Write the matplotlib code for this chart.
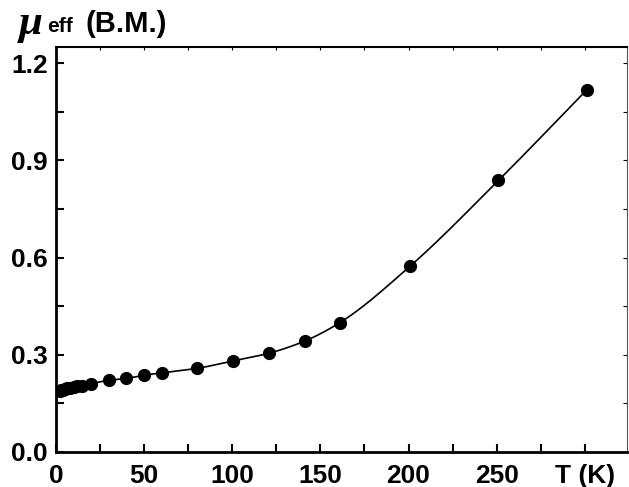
import numpy as np
import matplotlib
matplotlib.use("Agg")
import matplotlib.pyplot as plt
from matplotlib.ticker import MultipleLocator

# temperature (K) and effective magnetic moment (B.M.)
temps = [2, 3, 4, 5, 6, 8, 10, 12, 15, 20, 30, 40, 50, 60, 80, 100.5, 121, 141, 161, 201, 251, 301]
mu_eff = [0.187, 0.190, 0.192, 0.194, 0.196, 0.198, 0.200, 0.202, 0.205, 0.211, 0.221, 0.227,
          0.237, 0.244, 0.258, 0.281, 0.305, 0.342, 0.399, 0.574, 0.838, 1.117]

x_ticks = [0, 50, 100, 150, 200, 250, 300]
x_labels = ["0", "50", "100", "150", "200", "250", "T (K)"]
y_ticks = [0.0, 0.3, 0.6, 0.9, 1.2]


def pchip(x, y, xs):
    """Monotone cubic (Fritsch-Carlson) through the measured points, for the smooth guide line."""
    x = np.asarray(x, float)
    y = np.asarray(y, float)
    h = np.diff(x)
    d = np.diff(y) / h
    m = np.zeros_like(y)
    for k in range(1, len(x) - 1):
        if d[k - 1] * d[k] > 0:
            w1 = 2 * h[k] + h[k - 1]
            w2 = h[k] + 2 * h[k - 1]
            m[k] = (w1 + w2) / (w1 / d[k - 1] + w2 / d[k])
    m[0] = d[0]
    m[-1] = d[-1]
    idx = np.clip(np.searchsorted(x, xs) - 1, 0, len(x) - 2)
    t = (xs - x[idx]) / h[idx]
    h00 = 2 * t**3 - 3 * t**2 + 1
    h10 = t**3 - 2 * t**2 + t
    h01 = -2 * t**3 + 3 * t**2
    h11 = t**3 - t**2
    return h00 * y[idx] + h10 * h[idx] * m[idx] + h01 * y[idx + 1] + h11 * h[idx] * m[idx + 1]


plt.rcParams["font.family"] = ["Liberation Sans", "DejaVu Sans"]

fig = plt.figure(figsize=(6.29, 4.87), dpi=100)
ax = fig.add_axes([0.089, 0.072, 0.908, 0.8315])

xs = np.linspace(temps[0], temps[-1], 600)
ax.plot(xs, pchip(temps, mu_eff, xs), color="black", lw=1.2)
ax.plot(temps, mu_eff, "o", color="black", ms=8.5)

ax.set_xlim(0, 324)
ax.set_ylim(0, 1.25)

ax.set_xticks(x_ticks)
ax.set_xticklabels(x_labels)
ax.xaxis.set_minor_locator(MultipleLocator(25))
ax.set_yticks(y_ticks)
ax.set_yticklabels([f"{v:.1f}" for v in y_ticks])
ax.yaxis.set_minor_locator(MultipleLocator(0.15))

for lbl in ax.get_xticklabels() + ax.get_yticklabels():
    lbl.set_fontweight("bold")
    lbl.set_fontsize(19)

ax.tick_params(which="both", direction="in", length=6, width=1.5, top=True, right=True)
ax.tick_params(axis="x", pad=9)
ax.tick_params(axis="y", pad=6)
ax.tick_params(which="both", top=True, right=True, labeltop=False, labelright=False)

for side in ["left", "bottom"]:
    ax.spines[side].set_linewidth(2)
ax.spines["top"].set_linewidth(1.5)
ax.spines["right"].set_linewidth(0.8)
ax.spines["right"].set_color("#555555")

# top/right ticks are smaller and lighter
for t in ax.xaxis.get_major_ticks() + ax.xaxis.get_minor_ticks():
    t.tick2line.set_markersize(2)
    t.tick2line.set_markeredgewidth(0.8)
    t.tick2line.set_color("#777777")
for t in ax.yaxis.get_major_ticks() + ax.yaxis.get_minor_ticks():
    t.tick2line.set_markersize(3)
    t.tick2line.set_markeredgewidth(0.8)
    t.tick2line.set_color("#777777")

# y axis label sits above the axis, top-left
fig.text(0.030, 0.912, "μ", fontsize=31, fontstyle="italic", fontweight="bold",
         family="Liberation Serif", ha="left", va="bottom")
fig.text(0.075, 0.926, "eff", fontsize=15, fontweight="bold", ha="left", va="bottom")
fig.text(0.136, 0.922, "(B.M.)", fontsize=21, fontweight="bold", ha="left", va="bottom")

fig.savefig("out.png", dpi=100)
